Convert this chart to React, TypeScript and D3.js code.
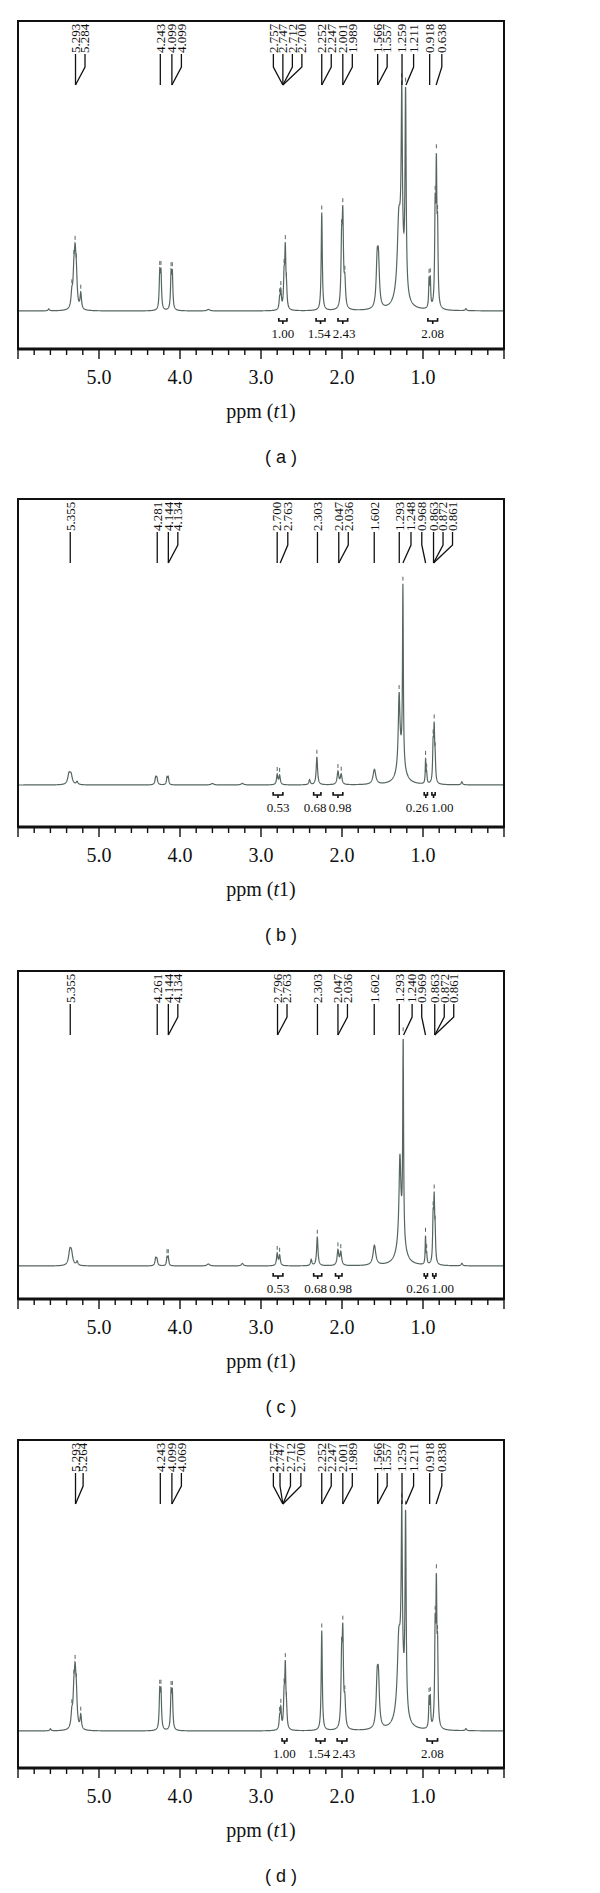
import React from "react";
import * as d3 from "d3";

type Peak = [number, number, number]; // ppm, height, half width (ppm)
type PeakLabel = [string, number, number]; // text, peak ppm, slot beside it
type Integral = [number, number, string]; // from ppm, to ppm, value

// (a) spectrum
const peaksA: Peak[] = [
  [5.62, 2, 0.01], [5.335, 14, 0.012], [5.31, 30, 0.012], [5.295, 44, 0.012], [5.28, 28, 0.012], [5.225, 16, 0.01],
  [4.25, 35, 0.008], [4.235, 35, 0.008], [4.11, 34, 0.008], [4.095, 34, 0.008],
  [3.65, 1.5, 0.02],
  [2.77, 10, 0.008], [2.755, 18, 0.008], [2.715, 30, 0.008], [2.7, 58, 0.008], [2.685, 16, 0.008],
  [2.25, 98, 0.008],
  [2.005, 60, 0.009], [1.99, 86, 0.009], [1.965, 25, 0.01],
  [1.566, 42, 0.014], [1.55, 42, 0.014],
  [1.3, 55, 0.02], [1.27, 60, 0.04], [1.262, 155, 0.008], [1.215, 198, 0.008],
  [0.925, 28, 0.006], [0.91, 28, 0.006],
  [0.85, 90, 0.007], [0.835, 130, 0.007], [0.82, 70, 0.007],
  [0.47, 2, 0.01],
];
const labelsA: PeakLabel[] = [
  ["5.293", 5.29, 0], ["5.284", 5.29, 1],
  ["4.243", 4.243, 0],
  ["4.099", 4.1, 0], ["4.099", 4.1, 1],
  ["2.757", 2.73, -1], ["2.747", 2.73, 0], ["2.712", 2.73, 1], ["2.700", 2.73, 2],
  ["2.252", 2.25, 0], ["2.247", 2.25, 1],
  ["2.001", 1.99, 0], ["1.989", 1.99, 1],
  ["1.566", 1.56, 0], ["1.557", 1.56, 1],
  ["1.259", 1.259, 0], ["1.211", 1.21, 0.8],
  ["0.918", 0.918, 0], ["0.638", 0.838, 0.6],
];
const integralsA: Integral[] = [
  [2.78, 2.68, "1.00"], [2.32, 2.21, "1.54"], [2.05, 1.93, "2.43"], [0.94, 0.82, "2.08"],
];

// (b) spectrum
const peaksB: Peak[] = [
  [5.37, 10, 0.018], [5.345, 9, 0.018], [5.27, 3, 0.012],
  [4.3, 7, 0.01], [4.285, 6, 0.01], [4.16, 7, 0.008], [4.145, 7, 0.008],
  [3.6, 1.5, 0.02], [3.23, 1.5, 0.02],
  [2.8, 10, 0.01], [2.77, 9, 0.01],
  [2.4, 5, 0.01], [2.31, 28, 0.01],
  [2.05, 13, 0.012], [2.01, 10, 0.012],
  [1.6, 15, 0.02],
  [1.295, 70, 0.012], [1.27, 25, 0.05], [1.248, 176, 0.006],
  [0.968, 24, 0.005], [0.955, 10, 0.006],
  [0.875, 35, 0.007], [0.862, 50, 0.007], [0.85, 20, 0.007],
  [0.52, 3, 0.01],
];
const labelsB: PeakLabel[] = [
  ["5.355", 5.355, 0],
  ["4.281", 4.281, 0], ["4.144", 4.144, 0], ["4.134", 4.144, 1],
  ["2.700", 2.8, 0], ["2.763", 2.763, 0.8],
  ["2.303", 2.303, 0],
  ["2.047", 2.04, 0], ["2.036", 2.04, 1],
  ["1.602", 1.602, 0],
  ["1.293", 1.293, 0], ["1.248", 1.248, 0.85],
  ["0.968", 0.968, -0.4],
  ["0.863", 0.87, 0], ["0.872", 0.87, 1], ["0.861", 0.87, 2],
];
const integralsB: Integral[] = [
  [2.85, 2.73, "0.53"], [2.35, 2.26, "0.68"], [2.11, 1.99, "0.98"], [0.985, 0.945, "0.26"], [0.89, 0.85, "1.00"],
];

// (c) spectrum
const peaksC: Peak[] = [
  [5.36, 13, 0.018], [5.34, 11, 0.018], [5.27, 4, 0.012],
  [4.3, 7, 0.01], [4.285, 6, 0.01], [4.16, 8, 0.008], [4.145, 8, 0.008],
  [3.65, 2, 0.02], [3.23, 2.5, 0.015],
  [2.8, 12, 0.01], [2.77, 10, 0.01],
  [2.38, 6, 0.01], [2.305, 29, 0.01],
  [2.05, 15, 0.012], [2.015, 13, 0.012],
  [1.6, 20, 0.02],
  [1.285, 80, 0.013], [1.27, 30, 0.05], [1.245, 200, 0.006],
  [0.969, 28, 0.005], [0.955, 10, 0.006],
  [0.875, 42, 0.007], [0.862, 58, 0.007], [0.85, 25, 0.007],
  [0.52, 2.5, 0.01],
];
const labelsC: PeakLabel[] = [
  ["5.355", 5.355, 0],
  ["4.261", 4.281, 0], ["4.144", 4.144, 0], ["4.134", 4.144, 1],
  ["2.796", 2.796, 0], ["2.763", 2.796, 1],
  ["2.303", 2.303, 0],
  ["2.047", 2.05, 0], ["2.036", 2.05, 1],
  ["1.602", 1.602, 0],
  ["1.293", 1.293, 0], ["1.240", 1.24, 0.9],
  ["0.969", 0.969, -0.4],
  ["0.863", 0.855, 0], ["0.872", 0.855, 1], ["0.861", 0.855, 2],
];
const integralsC: Integral[] = [
  [2.85, 2.73, "0.53"], [2.35, 2.25, "0.68"], [2.08, 2.0, "0.98"], [0.985, 0.945, "0.26"], [0.88, 0.84, "1.00"],
];

// (d) spectrum
const peaksD: Peak[] = [
  [5.6, 2, 0.01], [5.335, 14, 0.012], [5.31, 30, 0.012], [5.295, 45, 0.012], [5.28, 28, 0.012], [5.225, 14, 0.01],
  [4.25, 36, 0.008], [4.235, 36, 0.008], [4.11, 35, 0.008], [4.095, 35, 0.008],
  [2.77, 11, 0.008], [2.755, 20, 0.008], [2.715, 30, 0.008], [2.7, 60, 0.008], [2.685, 16, 0.008],
  [2.25, 100, 0.008],
  [2.005, 62, 0.009], [1.99, 88, 0.009], [1.965, 25, 0.01],
  [1.566, 43, 0.014], [1.55, 43, 0.014],
  [1.3, 55, 0.02], [1.27, 60, 0.04], [1.262, 155, 0.008], [1.215, 195, 0.008],
  [0.925, 29, 0.006], [0.91, 29, 0.006],
  [0.85, 90, 0.007], [0.835, 130, 0.007], [0.82, 70, 0.007],
  [0.47, 2, 0.01],
];
const labelsD: PeakLabel[] = [
  ["5.293", 5.29, 0], ["5.264", 5.29, 0.8],
  ["4.243", 4.243, 0],
  ["4.099", 4.1, 0], ["4.069", 4.1, 1],
  ["2.757", 2.73, -1], ["2.747", 2.73, -0.3], ["2.712", 2.73, 0.8], ["2.700", 2.73, 1.9],
  ["2.252", 2.25, 0], ["2.247", 2.25, 1],
  ["2.001", 1.99, 0], ["1.989", 1.99, 1],
  ["1.566", 1.56, 0], ["1.557", 1.56, 1],
  ["1.259", 1.259, 0], ["1.211", 1.21, 0.8],
  ["0.918", 0.918, 0], ["0.838", 0.838, 0.6],
];
const integralsD: Integral[] = [
  [2.74, 2.68, "1.00"], [2.32, 2.21, "1.54"], [2.06, 1.94, "2.43"], [0.95, 0.82, "2.08"],
];

const tickLabels = [5, 4, 3, 2, 1];
const panelLetters = ["a", "b", "c", "d"];

const serif = "'Liberation Serif', 'Times New Roman', serif";
const sans = "'Liberation Sans', Arial, sans-serif";
const lineColor = "#56665f";

const panelTops = [21, 499, 971, 1440];
const baseGaps = [38, 42, 33, 37];
const panelHeight = 328;
const slotWidth = 9.5;

const x = d3.scaleLinear().domain([6, 0]).range([18, 504]);

function spread(centers: number[], minGap: number) {
  const out = centers.slice();
  for (let k = 0; k < 6; k++) {
    for (let i = 1; i < out.length; i++) {
      const d = out[i] - out[i - 1];
      if (d < minGap) {
        const s = (minGap - d) / 2;
        out[i - 1] -= s;
        out[i] += s;
      }
    }
  }
  return out;
}

function Panel({ idx, peaks, labels, integrals }: { idx: number; peaks: Peak[]; labels: PeakLabel[]; integrals: Integral[] }) {
  const top = panelTops[idx];
  const axisY = top + panelHeight;
  const baseY = axisY - baseGaps[idx];
  const y = d3.scaleLinear().domain([0, 240]).range([baseY, baseY - 240]);

  const intensity = (p: number) => d3.sum(peaks, ([c, h, w]) => h / (1 + ((p - c) / w) ** 2));
  const pts: [number, number][] = d3.range(6, -0.0005, -0.002).map((p) => [p, intensity(p)]);
  const line = d3.line<[number, number]>().x((d) => x(d[0])).y((d) => y(d[1]));

  const ticks = d3.range(0, 31).map((i) => i * 0.2);

  const y0 = top + 33;
  const y1 = top + 46;
  const y2 = top + 64;

  const bracketY = baseY + 10;
  const labelX = spread(integrals.map(([a, b]) => (x(a) + x(b)) / 2), 25);

  return (
    <g>
      {/* spectrum */}
      <path d={line(pts) ?? ""} fill="none" stroke={lineColor} strokeWidth={1.2} />
      {peaks
        .filter(([, h, w]) => h >= 8 && w <= 0.012)
        .map(([c], i) => {
          const ty = y(intensity(c));
          return <line key={i} x1={x(c)} x2={x(c)} y1={ty - 7} y2={ty - 3} stroke={lineColor} strokeWidth={1} />;
        })}

      {/* peak labels */}
      {labels.map(([t, p, s], i) => {
        const px = x(p);
        const lx = px + s * slotWidth;
        return (
          <g key={i}>
            <path d={`M${lx},${y0}V${y1}L${px},${y2}`} fill="none" stroke="#111" strokeWidth={1.3} />
            <text
              transform={`translate(${lx},${y0 - 1}) rotate(-90)`}
              dy="0.33em"
              fontFamily={serif}
              fontSize={13}
              fill="#111"
            >
              {t}
            </text>
          </g>
        );
      })}

      {/* integrals */}
      {integrals.map(([a, b, v], i) => {
        const xa = x(a);
        const xb = x(b);
        const xm = (xa + xb) / 2;
        return (
          <g key={i}>
            <path
              d={`M${xa},${bracketY - 3}V${bracketY}H${xb}V${bracketY - 3}M${xm},${bracketY}V${bracketY + 3}`}
              fill="none"
              stroke="#111"
              strokeWidth={1.6}
            />
            <text x={labelX[i]} y={baseY + 27} textAnchor="middle" fontFamily={serif} fontSize={13} fill="#111">
              {v}
            </text>
          </g>
        );
      })}

      {/* frame */}
      <rect x={x(6)} y={top} width={x(0) - x(6)} height={panelHeight} fill="none" stroke="#111" strokeWidth={2} />
      <line x1={x(6)} x2={x(0)} y1={axisY} y2={axisY} stroke="#111" strokeWidth={3} />
      {ticks.map((t, i) => {
        const major = Math.abs(t - Math.round(t)) < 1e-6;
        return (
          <line key={i} x1={x(t)} x2={x(t)} y1={axisY} y2={axisY + (major ? 10 : 6)} stroke="#111" strokeWidth={1.4} />
        );
      })}
      {tickLabels.map((t) => (
        <text key={t} x={x(t)} y={axisY + 35} textAnchor="middle" fontFamily={serif} fontSize={20} fill="#111">
          {d3.format(".1f")(t)}
        </text>
      ))}
      <text x={x(3)} y={axisY + 69} textAnchor="middle" fontFamily={serif} fontSize={20} fill="#111">
        ppm (<tspan fontStyle="italic">t</tspan>1)
      </text>
      <text x={281} y={axisY + 114} textAnchor="middle" fontFamily={sans} fontSize={18} fill="#111">
        ( {panelLetters[idx]} )
      </text>
    </g>
  );
}

export default function App() {
  return (
    <svg width={600} height={1893} style={{ display: "block", position: "absolute", left: 0, top: 0, background: "#fff" }}>
      <rect width={600} height={1893} fill="#fff" />
      <Panel idx={0} peaks={peaksA} labels={labelsA} integrals={integralsA} />
      <Panel idx={1} peaks={peaksB} labels={labelsB} integrals={integralsB} />
      <Panel idx={2} peaks={peaksC} labels={labelsC} integrals={integralsC} />
      <Panel idx={3} peaks={peaksD} labels={labelsD} integrals={integralsD} />
    </svg>
  );
}
